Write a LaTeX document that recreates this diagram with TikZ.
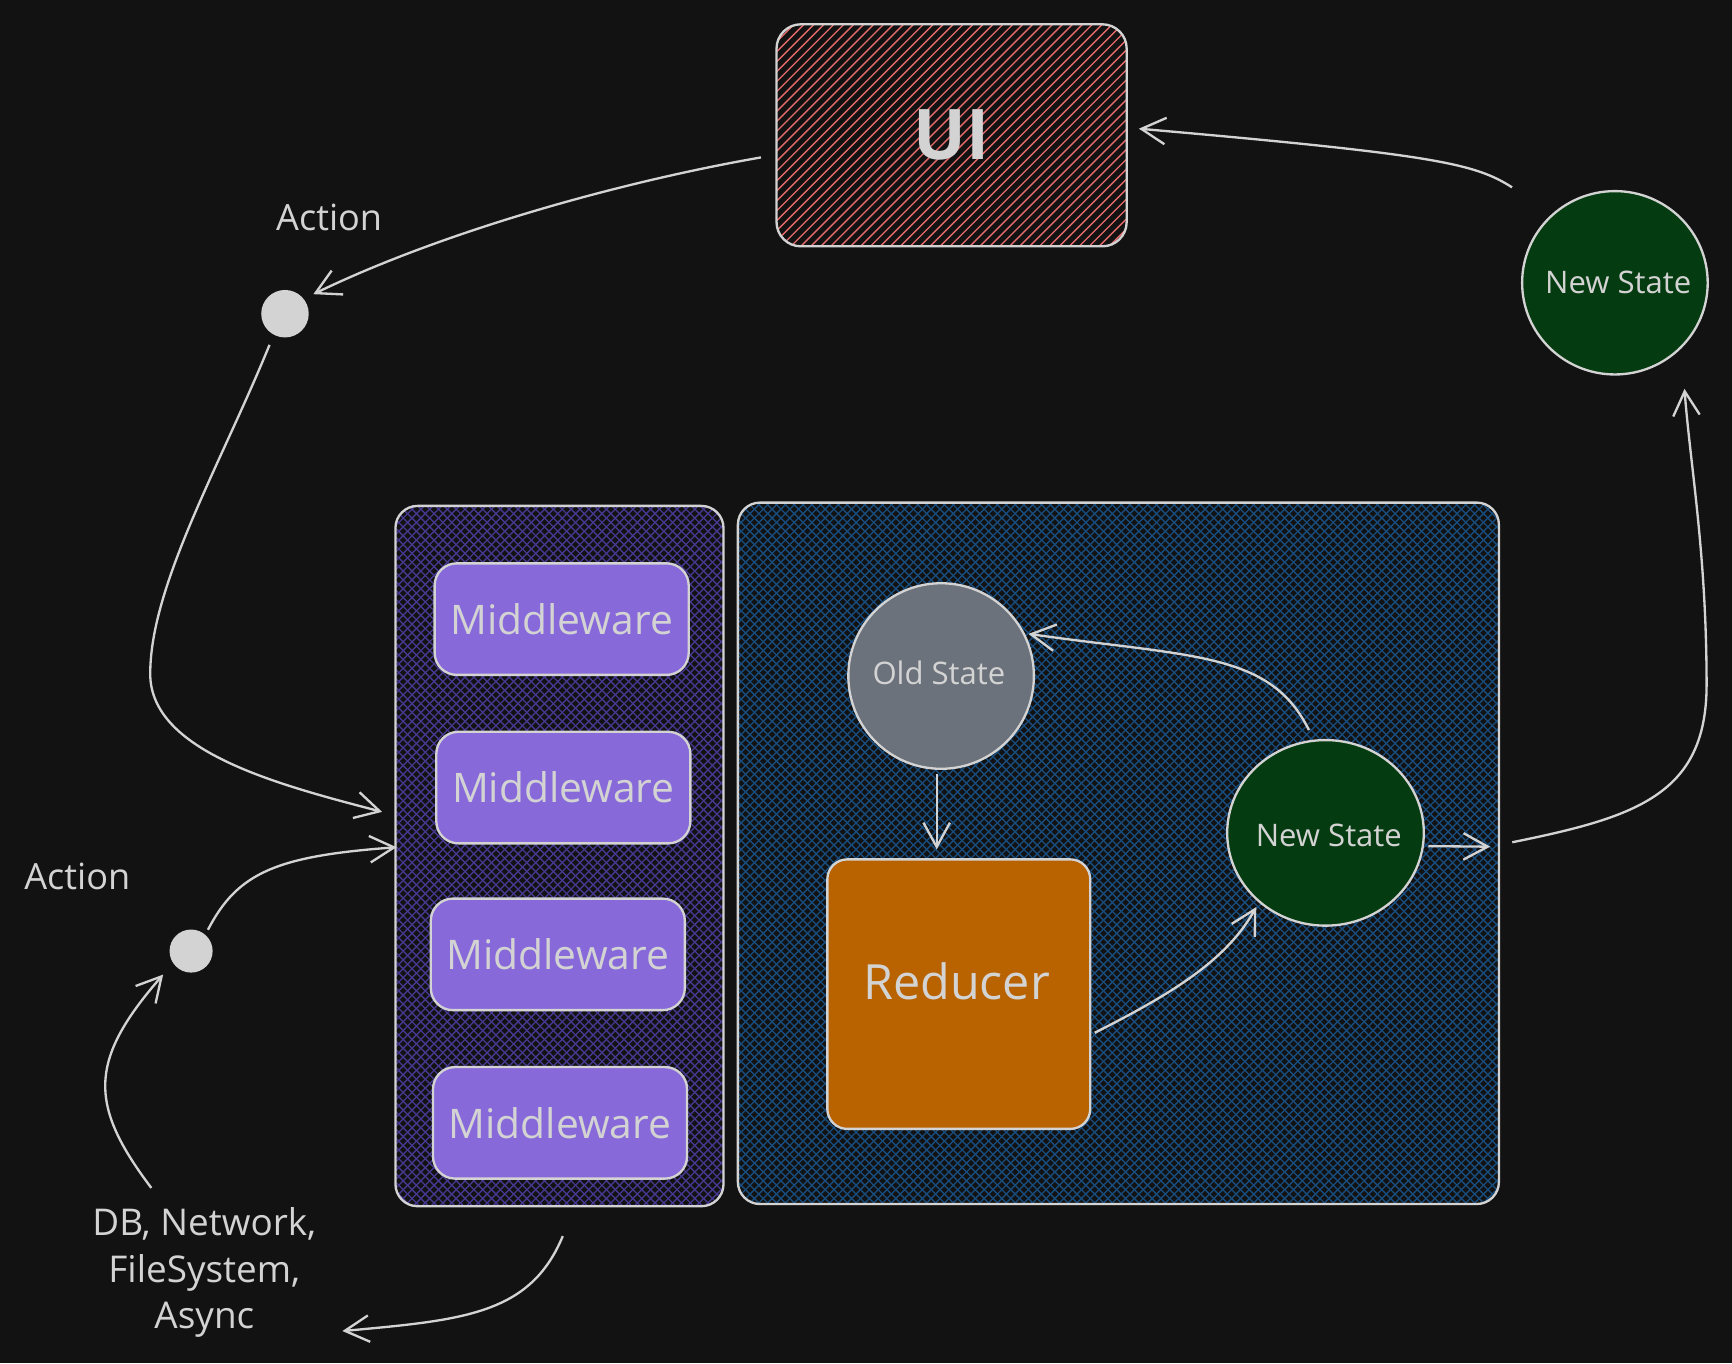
\documentclass[tikz,border=0pt]{standalone}
\usepackage{fontspec}
\setmainfont{Open Sans}
\usetikzlibrary{arrows.meta,shapes.geometric}
\definecolor{bg}{HTML}{121212}
\definecolor{ink}{HTML}{D3D3D3}
\definecolor{uihatch}{HTML}{E56A6A}
\definecolor{mwhatch}{HTML}{45388E}
\definecolor{rchatch}{HTML}{184C7C}
\definecolor{mwfill}{HTML}{8769DA}
\definecolor{redfill}{HTML}{B86200}
\definecolor{oldfill}{HTML}{6B727B}
\definecolor{newfill}{HTML}{043B10}
\tikzset{
  sketch/.style={draw=ink, line width=0.6pt},
  txt/.style={text=ink, inner sep=0pt},
  arr/.style={draw=ink, line width=0.6pt, -{Straight Barb[length=2.2mm,width=2.4mm,line width=0.6pt]}},
  hatchline/.style={line width=0.35pt},
  mwbox/.style={sketch, fill=mwfill, rounded corners=2mm, minimum width=23mm, minimum height=10.1mm, txt, font=\fontsize{10.5}{12}\selectfont},
  statecirc/.style={sketch, circle, inner sep=0pt},
  statetxt/.style={txt, font=\fontsize{8}{10}\selectfont},
  dot/.style={circle, fill=ink, inner sep=0pt},
}
\begin{document}
\begin{tikzpicture}[x=0.1mm,y=-0.1mm]
\fill[bg] (0,0) rectangle (1568,1234);
\useasboundingbox (0,0) rectangle (1568,1234);

% ---------- UI box ----------
\begin{scope}
  \clip[rounded corners=2.2mm] (703,22) rectangle (1020,223);
  \foreach \i in {-210,-201,...,330} \draw[uihatch,hatchline] (703+\i,230) -- ++(215,-215);
\end{scope}
\node[sketch, rounded corners=2.2mm, minimum width=31.7mm, minimum height=20.1mm, txt, font=\fontsize{18}{20}\selectfont\bfseries] (ui) at (861.5,122.5) {UI};

% ---------- Middleware container ----------
\begin{scope}
  \clip[rounded corners=2mm] (358,458) rectangle (655,1092);
  \foreach \i in {-640,-632,...,300} \draw[mwhatch,hatchline] (358+\i,1100) -- ++(650,-650);
  \foreach \i in {-10,-2,...,940} \draw[mwhatch,hatchline] (358+\i,1100) -- ++(-650,-650);
\end{scope}
\node[sketch, rounded corners=2mm, minimum width=29.7mm, minimum height=63.4mm] (mwc) at (506.5,775) {};

% ---------- Reducer container ----------
\begin{scope}
  \clip[rounded corners=2mm] (668,455) rectangle (1357,1090);
  \foreach \i in {-640,-632,...,700} \draw[rchatch,hatchline] (668+\i,1100) -- ++(650,-650);
  \foreach \i in {-10,-2,...,1340} \draw[rchatch,hatchline] (668+\i,1100) -- ++(-650,-650);
\end{scope}
\node[sketch, rounded corners=2mm, minimum width=68.9mm, minimum height=63.5mm] (rc) at (1012.5,772.5) {};

% ---------- Middleware boxes ----------
\node[mwbox] (mw1) at (508.5,560.5) {Middleware};
\node[mwbox] (mw2) at (510,713) {Middleware};
\node[mwbox] (mw3) at (505,864) {Middleware};
\node[mwbox] (mw4) at (507,1016.5) {Middleware};

% ---------- State / reducer ----------
\node[statecirc, fill=oldfill, minimum size=16.8mm] (old) at (852,612) {};
\node[statetxt] (oldt) at (850,609) {Old State};
\node[sketch, fill=redfill, rounded corners=1.8mm, minimum width=23.8mm, minimum height=24.4mm] (red) at (868,900) {};
\node[txt, font=\fontsize{12.5}{14}\selectfont] (redt) at (866,888) {Reducer};
\node[sketch, ellipse, inner sep=0pt, fill=newfill, minimum width=17.8mm, minimum height=16.8mm] (new1) at (1200,754) {};
\node[statetxt] (new1t) at (1203,756) {New State};
\node[sketch, ellipse, inner sep=0pt, fill=newfill, minimum width=16.8mm, minimum height=16.6mm] (new2) at (1462,256) {};
\node[statetxt] (new2t) at (1465,256) {New State};

% ---------- Action dots and labels ----------
\node[dot, minimum size=4.3mm] (dot1) at (258,284) {};
\node[dot, minimum size=3.9mm] (dot2) at (173,861) {};
\node[txt, font=\fontsize{9.3}{11}\selectfont] (act1) at (298,197) {Action};
\node[txt, font=\fontsize{9.3}{11}\selectfont] (act2) at (70,793) {Action};
\node[txt, font=\fontsize{9.5}{12}\selectfont, align=center] (db) at (185,1152) {DB, Network,\\FileSystem,\\Async};

% ---------- Connectors ----------
\coordinate (eOut) at (310,1205);
\draw[arr] ([shift={(-13,20)}]ui.west) .. controls (560,165) and (400,210) .. ([shift={(10,-2)}]dot1.north east);
\draw[arr] ([shift={(-14,6)}]dot1.south) .. controls (200,420) and (136,530) .. (136,610) .. controls (136,680) and (250,710) .. ([shift={(-11,-40)}]mwc.west);
\draw[arr] ([shift={(1,-5)}]dot2.north east) .. controls (215,790) and (250,775) .. ([shift={(2,-8)}]mwc.west);
\draw[arr] ([shift={(-48,-17)}]db.north) .. controls (80,1000) and (80,960) .. ([shift={(-11,7)}]dot2.south west);
\draw[arr] ([shift={(3,26)}]mwc.south) .. controls (480,1190) and (420,1195) .. (eOut);
\draw[arr] ([shift={(-4,4)}]old.south) -- ([shift={(-20,-8)}]red.north);
\draw[arr] ([shift={(3,35)}]red.east) .. controls (1060,900) and (1110,870) .. ([shift={(1,7)}]new1.south west);
\draw[arr] ([shift={(-15,-8)}]new1.north) .. controls (1150,590) and (1080,595) .. ([shift={(19,22)}]old.north east);
\draw[arr] ([shift={(3,12)}]new1.east) -- ([shift={(-9,-6)}]rc.east);
\draw[arr] ([shift={(11,-10)}]rc.east) .. controls (1480,740) and (1545,720) .. (1545,620) .. controls (1545,500) and (1530,420) .. ([shift={(63,12)}]new2.south);
\draw[arr] ([shift={(-33,-27)}]new2.north west) .. controls (1335,148) and (1300,140) .. ([shift={(10,-6)}]ui.east);
\end{tikzpicture}
\end{document}
